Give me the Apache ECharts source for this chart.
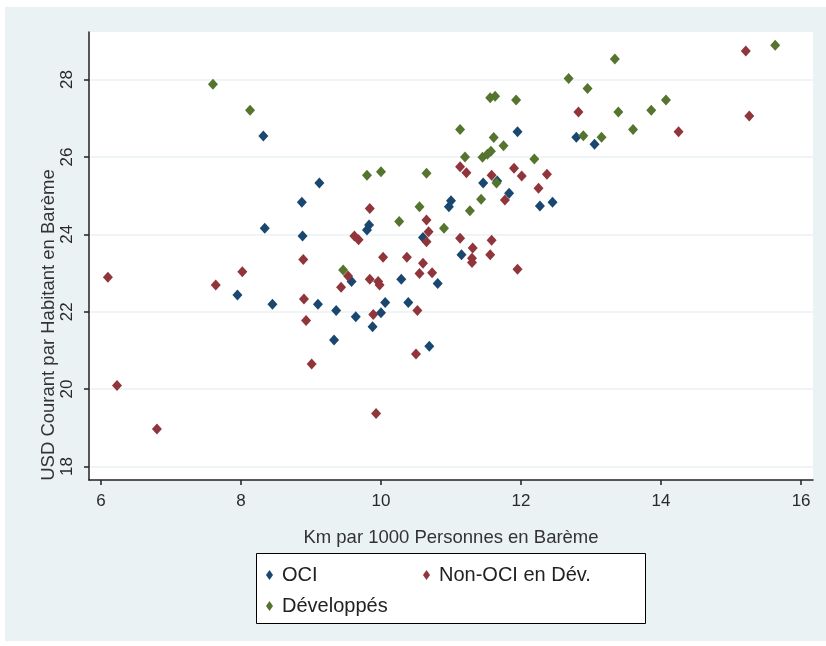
<!DOCTYPE html>
<html><head><meta charset="utf-8">
<script src="https://cdn.jsdelivr.net/npm/echarts@6/dist/echarts.min.js"></script>
<style>html,body{margin:0;padding:0;background:#fff;width:826px;height:646px;overflow:hidden}
#c{position:absolute;left:5px;top:7px;width:821px;height:634px}</style>
</head><body><div id="c"></div><script>
const xTicks = [6, 8, 10, 12, 14, 16];
const yTicks = [18, 20, 22, 24, 26, 28];
const seriesNames = ['OCI', 'Non-OCI en Dév.', 'Développés'];
const xTitle = 'Km par 1000 Personnes en Barème';
const yTitle = 'USD Courant par Habitant en Barème';

const oci = [
  [8.32,26.54],[8.87,24.83],[8.34,24.16],[8.88,23.96],[9.12,25.33],[9.80,24.11],[9.83,24.24],
  [10.97,24.71],[11.00,24.87],[11.95,26.65],[11.46,25.33],[11.66,25.38],[11.83,25.06],[12.27,24.73],
  [12.45,24.83],[10.60,23.92],[11.15,23.47],[12.79,26.51],[13.05,26.33],[7.95,22.43],[8.45,22.19],
  [9.58,22.78],[10.29,22.84],[10.81,22.73],[9.10,22.19],[9.36,22.03],[9.64,21.87],[10.06,22.24],
  [10.00,21.97],[10.39,22.24],[9.88,21.61],[9.33,21.27],[10.69,21.11]
];
const nonOci = [
  [6.10,22.89],[6.23,20.09],[6.80,18.97],[7.64,22.69],[8.02,23.03],[8.89,23.35],[8.90,22.33],
  [8.93,21.77],[9.01,20.65],[10.03,23.41],[10.37,23.41],[10.60,23.25],[10.55,22.99],[10.73,23.01],
  [9.53,22.92],[9.43,22.63],[9.84,22.84],[9.96,22.78],[9.98,22.69],[9.89,21.93],[10.52,22.03],
  [10.50,20.91],[9.93,19.37],[11.31,23.65],[11.30,23.38],[11.30,23.27],[11.56,23.47],[11.95,23.10],
  [9.84,24.67],[9.62,23.96],[9.68,23.86],[10.65,24.37],[10.68,24.07],[10.65,23.81],[11.13,23.90],
  [11.58,23.85],[11.13,25.75],[11.22,25.59],[11.58,25.53],[11.90,25.71],[12.01,25.51],[12.37,25.55],
  [12.25,25.19],[11.77,24.89],[15.21,28.74],[12.82,27.16],[15.26,27.06],[14.25,26.65]
];
const developpes = [
  [7.60,27.88],[8.13,27.21],[9.46,23.08],[9.80,25.53],[10.00,25.62],[10.65,25.58],[10.55,24.71],
  [10.26,24.33],[10.90,24.16],[11.13,26.71],[11.20,26.00],[11.56,27.53],[11.63,27.57],[11.93,27.47],
  [11.61,26.50],[11.75,26.29],[11.45,25.99],[11.52,26.07],[11.57,26.15],[11.65,25.33],[12.19,25.95],
  [11.43,24.91],[11.27,24.61],[12.68,28.03],[15.63,28.89],[13.34,28.53],[12.95,27.77],[14.07,27.47],
  [13.86,27.21],[13.39,27.16],[13.60,26.71],[12.89,26.55],[13.15,26.51]
];

const colors = ['#1A476F', '#90353B', '#55752F'];
const FONT = '"Liberation Sans", Arial, sans-serif';
const chart = echarts.init(document.getElementById('c'));
const axisCol = '#222';
const legendBase = {
  orient: 'vertical', top: 558, itemWidth: 7, itemHeight: 10, itemGap: 11, padding: 0, z: 5,
  textStyle: {fontSize: 20, color: '#222', fontFamily: FONT, padding: [0, 0, 0, 4]}
};
chart.setOption({
  animation: false,
  backgroundColor: '#EAF2F3',
  color: colors,
  grid: {left: 84, top: 25, right: 13, bottom: 161, show: true, backgroundColor: '#fff', borderWidth: 0},
  xAxis: {
    type: 'value', min: 5.83, max: 16.17,
    axisLine: {onZero: false, lineStyle: {color: axisCol, width: 1.5}},
    axisTick: {show: true, length: 5, customValues: xTicks, lineStyle: {color: axisCol, width: 1.5}},
    axisLabel: {customValues: xTicks, fontSize: 17, color: '#2a2a2a', margin: 13, fontFamily: FONT},
    splitLine: {show: false},
    name: xTitle, nameLocation: 'middle', nameGap: 48,
    nameTextStyle: {fontSize: 18.5, color: '#333', fontFamily: FONT}
  },
  yAxis: {
    type: 'value', min: 17.65, max: 29.23,
    axisLine: {show: true, onZero: false, lineStyle: {color: axisCol, width: 1.5}},
    axisTick: {show: true, length: 5, customValues: yTicks, lineStyle: {color: axisCol, width: 1.5}},
    axisLabel: {customValues: yTicks, rotate: 90, fontSize: 17, color: '#2a2a2a', margin: 13, fontFamily: FONT},
    splitLine: {show: true, lineStyle: {color: '#EAF2F3', width: 1.5}}
  },
  graphic: [{
    type: 'text', x: 43.5, y: 318, rotation: Math.PI / 2,
    style: {text: yTitle, fontSize: 18.5, fill: '#333', align: 'center', verticalAlign: 'middle', fontFamily: FONT}
  }, {
    type: 'rect', z: 1, shape: {x: 251.5, y: 546.5, width: 389, height: 70},
    style: {fill: '#fff', stroke: '#000', lineWidth: 1}
  }],
  legend: [
    Object.assign({}, legendBase, {left: 261, data: [seriesNames[0], seriesNames[2]].map(n => ({name: n, icon: 'diamond'}))}),
    Object.assign({}, legendBase, {left: 418, data: [{name: seriesNames[1], icon: 'diamond'}]})
  ],
  series: seriesNames.map((n, i) => ({
    name: n, type: 'scatter', symbol: 'diamond', symbolSize: [10, 11],
    itemStyle: {opacity: 1, color: colors[i]},
    data: [oci, nonOci, developpes][i]
  }))
});
</script></body></html>
